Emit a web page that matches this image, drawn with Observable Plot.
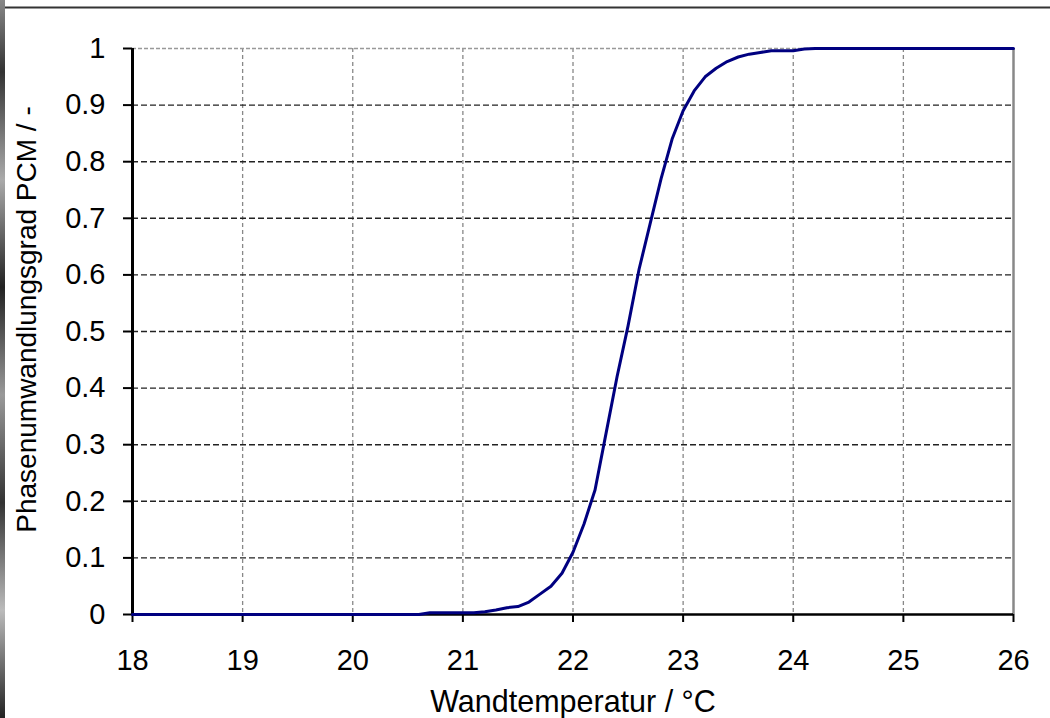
<!DOCTYPE html>
<html><head><meta charset="utf-8">
<script src="https://cdn.jsdelivr.net/npm/d3@7"></script>
<script src="https://cdn.jsdelivr.net/npm/@observablehq/plot@0.6"></script>
<style>body{margin:0;background:#fff;} svg{display:block;}</style>
</head><body><div id="chart"></div>
<script>
const temperature = [18, 19, 20, 20.6, 20.7, 20.8, 20.9, 21.0, 21.1, 21.2, 21.3, 21.4, 21.5, 21.6, 21.7, 21.8, 21.9, 22.0, 22.1, 22.2, 22.3, 22.4, 22.5, 22.6, 22.7, 22.8, 22.9, 23.0, 23.1, 23.2, 23.3, 23.4, 23.5, 23.6, 23.7, 23.8, 23.9, 24.0, 24.1, 24.2, 25, 26];
const phase = [0, 0, 0, 0, 0.003, 0.003, 0.003, 0.003, 0.003, 0.005, 0.008, 0.012, 0.014, 0.022, 0.036, 0.05, 0.073, 0.11, 0.16, 0.22, 0.32, 0.42, 0.51, 0.61, 0.69, 0.77, 0.84, 0.89, 0.925, 0.95, 0.965, 0.977, 0.985, 0.99, 0.993, 0.996, 0.996, 0.996, 0.999, 1, 1, 1];
const xTicks = [18, 19, 20, 21, 22, 23, 24, 25, 26];
const yTicks = [0, 0.1, 0.2, 0.3, 0.4, 0.5, 0.6, 0.7, 0.8, 0.9, 1];
const xLabel = "Wandtemperatur / °C";
const yLabel = "Phasenumwandlungsgrad PCM / -";

const data = temperature.map((t, i) => ({t, p: phase[i]}));
const fmt = d => String(d);

const plot = Plot.plot({
  width: 1050,
  height: 718,
  marginLeft: 132,
  marginRight: 37,
  marginTop: 48,
  marginBottom: 104,
  style: {fontFamily: "'Liberation Sans', Arial, sans-serif", fontSize: "29px", color: "#000", background: "#fff"},
  x: {domain: [18, 26]},
  y: {domain: [0, 1]},
  marks: [
    Plot.ruleX(xTicks.filter(d => d > 18 && d < 26), {stroke: "#888", strokeWidth: 1.3, strokeDasharray: "4,3"}),
    Plot.ruleY(yTicks.filter(d => d > 0 && d < 1), {stroke: "#222", strokeWidth: 1.4, strokeDasharray: "6,3"}),
    Plot.ruleY([1], {stroke: "#999", strokeWidth: 1.5, strokeDasharray: "4,2"}),
    Plot.ruleX([26], {stroke: "#888", strokeWidth: 2.5}),
    Plot.axisX({ticks: xTicks, tickFormat: fmt, tickSize: 8, tickPadding: 27, fontSize: 29, label: null, stroke: "#000", strokeWidth: 2, fill: "#000"}),
    Plot.axisY({ticks: yTicks, tickFormat: fmt, tickSize: 9, tickPadding: 18, fontSize: 29, label: null, stroke: "#000", strokeWidth: 2, fill: "#000"}),
    Plot.ruleX([18], {stroke: "#000", strokeWidth: 3}),
    Plot.ruleY([0], {stroke: "#000", strokeWidth: 2.5}),
    Plot.line(data, {x: "t", y: "p", stroke: "#000080", strokeWidth: 3}),
    Plot.text([xLabel], {frameAnchor: "bottom", lineAnchor: "bottom", dy: 97, fontSize: 30.5, fill: "#000"}),
    Plot.text([yLabel], {frameAnchor: "left", textAnchor: "middle", lineAnchor: "middle", dx: -105, dy: -12, rotate: -90, fontSize: 28, fill: "#000"})
  ]
});

const svg = d3.select(plot);
svg.insert("rect", ":first-child").attr("x", 0).attr("y", 0).attr("width", 1050).attr("height", 718).attr("fill", "#fff");
const defs = svg.append("defs");
const g = defs.append("linearGradient").attr("id", "strip").attr("x1", 0).attr("x2", 0).attr("y1", 0).attr("y2", 1);
[["0%", "#888"], ["10%", "#333"], ["25%", "#aaa"], ["40%", "#222"], ["55%", "#999"], ["70%", "#333"], ["85%", "#bbb"], ["100%", "#222"]]
  .forEach(([o, c]) => g.append("stop").attr("offset", o).attr("stop-color", c));
svg.append("rect").attr("x", 0).attr("y", 0).attr("width", 5).attr("height", 718).attr("fill", "url(#strip)");
svg.append("line").attr("x1", 5).attr("x2", 1050).attr("y1", 7.5).attr("y2", 7.5).attr("stroke", "#333").attr("stroke-width", 2);

document.getElementById("chart").appendChild(plot);
</script>
</body></html>
